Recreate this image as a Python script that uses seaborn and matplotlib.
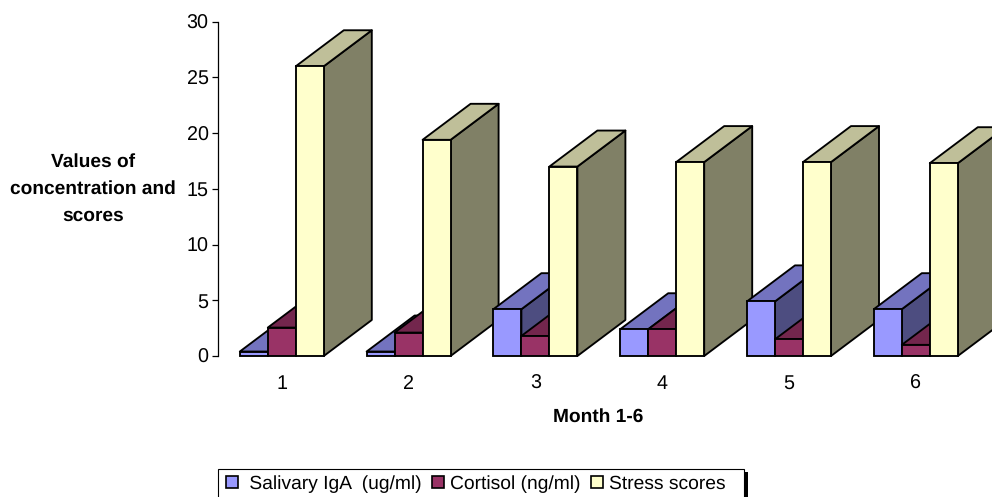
import matplotlib
matplotlib.use('Agg')
import matplotlib.pyplot as plt
from matplotlib.patches import Patch, Polygon, Rectangle
import pandas as pd
import seaborn as sns

# values
months = ['1', '2', '3', '4', '5', '6']
salivary_iga = [0.4, 0.4, 4.2, 2.4, 4.9, 4.2]
cortisol = [2.55, 2.1, 1.8, 2.4, 1.5, 1.0]
stress_scores = [26.0, 19.4, 17.0, 17.4, 17.4, 17.3]
series_names = ['Salivary IgA  (ug/ml)', 'Cortisol (ng/ml)', 'Stress scores']
y_ticks = [0, 5, 10, 15, 20, 25, 30]

front_colors = ['#9999FF', '#993366', '#FFFFCC']
top_colors = ['#7373BF', '#73264D', '#BFBF99']
side_colors = ['#4D4D80', '#4D1A33', '#808066']

W, H = 992, 497

sns.set_theme(style='white')
plt.rcParams['font.family'] = ['Liberation Sans', 'DejaVu Sans']
plt.rcParams['text.color'] = 'black'
plt.rcParams['text.hinting'] = 'no_hinting'

# long table for seaborn
df = pd.DataFrame({
    'month': months * 3,
    'series': [series_names[0]] * 6 + [series_names[1]] * 6 + [series_names[2]] * 6,
    'value': salivary_iga + cortisol + stress_scores,
})

fig = plt.figure(figsize=(W / 100, H / 100), dpi=100)
ax = fig.add_axes([218.4 / W, (H - 356) / H, 760.8 / W, 334.3 / H])

sns.barplot(data=df, x='month', y='value', hue='series', order=months,
            hue_order=series_names, palette=front_colors, width=0.6624,
            gap=0, saturation=1, legend=False, ax=ax)

ax.set_xlim(-0.5, 5.5)
ax.set_ylim(0, 30)

# fake 3d: one side and one top per bar, painted left to right
depth_x = 48 / 126.8
depth_y = 36 / 11.14
edge_w = 1.35
bars = [p for p in ax.patches if p.get_height() > 0]
n_months = len(months)
order = sorted(range(len(bars)), key=lambda i: bars[i].get_x())
for rank, i in enumerate(order):
    bar = bars[i]
    s = i // n_months
    x0 = bar.get_x()
    x1 = x0 + bar.get_width()
    h = bar.get_height()
    z = 3 + rank
    bar.set_edgecolor('black')
    bar.set_linewidth(edge_w)
    bar.set_zorder(z + 0.2)
    bar.set_clip_on(False)
    side = Polygon([(x1, 0), (x1 + depth_x, depth_y), (x1 + depth_x, h + depth_y), (x1, h)],
                   facecolor=side_colors[s], edgecolor='black', linewidth=edge_w,
                   joinstyle='round', zorder=z, clip_on=False)
    top = Polygon([(x0, h), (x0 + depth_x, h + depth_y), (x1 + depth_x, h + depth_y), (x1, h)],
                  facecolor=top_colors[s], edgecolor='black', linewidth=edge_w,
                  joinstyle='round', zorder=z + 0.1, clip_on=False)
    ax.add_patch(side)
    ax.add_patch(top)

# axes
sns.despine(ax=ax, bottom=True)
ax.spines['left'].set_color('black')
ax.spines['left'].set_linewidth(0.9)
ax.set_yticks(y_ticks)
ax.tick_params(axis='y', left=True, length=4, width=0.9, pad=3, labelsize=14.2, color='black', labelcolor='black')
ax.tick_params(axis='x', bottom=False, length=0, pad=13, labelsize=14.2, labelcolor='black')

ax.set_xlabel('Month 1-6', fontsize=13.8, fontweight='bold', color='black')
ax.xaxis.set_label_coords((598 - 218) / 760.8, (356 - 408) / 334.3)
ax.set_ylabel('Values of\nconcentration and\nscores', fontsize=13.8, fontweight='bold', color='black',
              rotation=0, ha='center', va='center', linespacing=1.66)
ax.yaxis.set_label_coords((93 - 218) / 760.8, (356 - 189) / 334.3)

# legend box runs off the bottom of the picture
fig.add_artist(Rectangle((743 / W, 0), 5 / W, (H - 472) / H, transform=fig.transFigure,
                         facecolor='black', edgecolor='none'))
fig.add_artist(Rectangle((217.5 / W, -0.02), 526 / W, (H - 468.5) / H + 0.02, transform=fig.transFigure,
                         facecolor='white', edgecolor='black', linewidth=0.8))
handles = [Patch(facecolor=c, edgecolor='black', linewidth=1.2) for c in front_colors]
labels = [' ' + series_names[0], series_names[1], series_names[2]]
fig.legend(handles, labels, loc='center left', bbox_to_anchor=(226 / W, (H - 484) / H),
           ncol=3, frameon=False, fontsize=13.9, borderpad=0, borderaxespad=0,
           handlelength=0.62, handleheight=0.62, handletextpad=0.3, columnspacing=0.55,
           labelcolor='black')

fig.savefig('out.png', dpi=100)
